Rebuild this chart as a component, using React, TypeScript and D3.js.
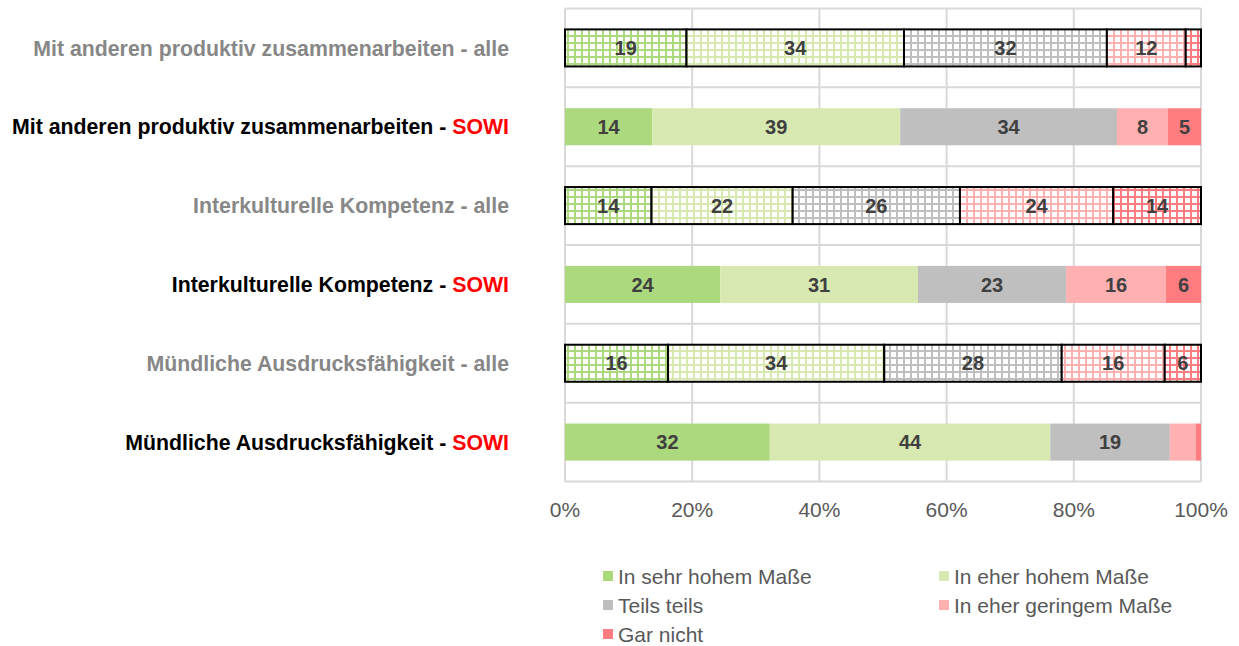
import React, { useRef, useEffect } from 'react';
import * as d3 from 'd3';

// categories from top to bottom
const categories = [
  'Mit anderen produktiv zusammenarbeiten',
  'Mit anderen produktiv zusammenarbeiten',
  'Interkulturelle Kompetenz',
  'Interkulturelle Kompetenz',
  'Mündliche Ausdrucksfähigkeit',
  'Mündliche Ausdrucksfähigkeit',
];
const groups = ['alle', 'SOWI', 'alle', 'SOWI', 'alle', 'SOWI'];

const seriesNames = [
  'In sehr hohem Maße',
  'In eher hohem Maße',
  'Teils teils',
  'In eher geringem Maße',
  'Gar nicht',
];
const seriesColors = ['#acd97e', '#d7e9b0', '#bfbfbf', '#ffb0b0', '#ff7c80'];

// percent values per series, one per category row
const sehrHoch = [19.1, 13.7, 13.6, 24.4, 16.2, 32.2];
const eherHoch = [34.2, 39.0, 22.2, 31.1, 34.0, 44.1];
const teilsTeils = [31.9, 34.1, 26.3, 23.3, 27.9, 18.8];
const eherGering = [12.4, 8.0, 24.1, 15.7, 16.2, 4.1];
const garNicht = [2.4, 5.2, 13.8, 5.5, 5.7, 0.8];

const xTicks = [0, 20, 40, 60, 80, 100];

const W = 1239;
const H = 646;
const font = '"Liberation Sans", Arial, sans-serif';

export default function App() {
  const svgRef = useRef<SVGSVGElement>(null);

  useEffect(() => {
    const svg = d3.select(svgRef.current);
    svg.selectAll('*').remove();

    const values = [sehrHoch, eherHoch, teilsTeils, eherGering, garNicht];
    const rows = categories.map((c, i) => {
      const row: any = { idx: i, cat: c, group: groups[i] };
      seriesNames.forEach((s, k) => (row[s] = values[k][i]));
      return row;
    });

    const x = d3.scaleLinear().domain([0, 100]).range([565, 1201]);
    const y = d3
      .scaleBand<number>()
      .domain(rows.map(r => r.idx))
      .range([8.5, 481.5])
      .paddingInner(0.53)
      .paddingOuter(0.265);
    const step = y.step();

    // hatch patterns (grid of coloured lines on white)
    const defs = svg.append('defs');
    seriesColors.forEach((col, k) => {
      const p = defs
        .append('pattern')
        .attr('id', `hatch${k}`)
        .attr('patternUnits', 'userSpaceOnUse')
        .attr('width', 7)
        .attr('height', 7);
      p.append('rect').attr('width', 7).attr('height', 7).attr('fill', '#fff');
      p.append('rect').attr('x', 0).attr('y', 0).attr('width', 2).attr('height', 7).attr('fill', col);
      p.append('rect').attr('x', 0).attr('y', 0).attr('width', 7).attr('height', 2).attr('fill', col);
    });

    // gridlines
    const grid = svg.append('g');
    grid
      .selectAll('line.v')
      .data(xTicks)
      .join('line')
      .attr('x1', d => x(d))
      .attr('x2', d => x(d))
      .attr('y1', 8.5)
      .attr('y2', 481.5)
      .attr('stroke', '#d9d9d9')
      .attr('stroke-width', 2);
    grid
      .selectAll('line.h')
      .data(d3.range(categories.length + 1))
      .join('line')
      .attr('x1', 565)
      .attr('x2', 1201)
      .attr('y1', d => 8.5 + d * step)
      .attr('y2', d => 8.5 + d * step)
      .attr('stroke', '#d9d9d9')
      .attr('stroke-width', 2);

    // bars
    const stack = d3.stack<any>().keys(seriesNames)(rows);
    const layers = svg
      .append('g')
      .selectAll('g')
      .data(stack)
      .join('g');

    layers
      .selectAll('rect')
      .data((d, k) => d.map(p => ({ p, k })))
      .join('rect')
      .attr('x', d => x(d.p[0]))
      .attr('y', d => y(d.p.data.idx)!)
      .attr('width', d => x(d.p[1]) - x(d.p[0]))
      .attr('height', y.bandwidth())
      .attr('fill', d => (d.p.data.group === 'alle' ? `url(#hatch${d.k})` : seriesColors[d.k]))
      .attr('stroke', d => (d.p.data.group === 'alle' ? '#000' : 'none'))
      .attr('stroke-width', 2);

    layers
      .selectAll('text')
      .data(d => d.filter(p => p[1] - p[0] >= 5))
      .join('text')
      .attr('x', p => x((p[0] + p[1]) / 2))
      .attr('y', p => y(p.data.idx)! + y.bandwidth() / 2)
      .attr('dy', '0.36em')
      .attr('text-anchor', 'middle')
      .attr('font-family', font)
      .attr('font-weight', 'bold')
      .attr('font-size', 20)
      .attr('fill', '#404040')
      .text(p => Math.round(p[1] - p[0]));

    // category labels
    const labels = svg
      .append('g')
      .selectAll('text')
      .data(rows)
      .join('text')
      .attr('x', 509)
      .attr('y', r => y(r.idx)! + y.bandwidth() / 2)
      .attr('dy', '0.36em')
      .attr('text-anchor', 'end')
      .attr('font-family', font)
      .attr('font-weight', 'bold')
      .attr('font-size', 21.3)
      .attr('fill', r => (r.group === 'alle' ? '#878787' : '#000'));
    labels.append('tspan').text(r => `${r.cat} - `);
    labels
      .append('tspan')
      .attr('fill', r => (r.group === 'alle' ? '#878787' : '#ff0000'))
      .text(r => r.group);

    // x axis labels
    svg
      .append('g')
      .selectAll('text')
      .data(xTicks)
      .join('text')
      .attr('x', d => x(d))
      .attr('y', 509)
      .attr('dy', '0.36em')
      .attr('text-anchor', 'middle')
      .attr('font-family', font)
      .attr('font-size', 21)
      .attr('fill', '#595959')
      .text(d => `${d}%`);

    // legend
    const legend = svg
      .append('g')
      .selectAll('g')
      .data(seriesNames)
      .join('g')
      .attr('transform', (_, i) => `translate(${i % 2 === 0 ? 603 : 939},${576 + Math.floor(i / 2) * 29})`);
    legend
      .append('rect')
      .attr('x', 0)
      .attr('y', -5)
      .attr('width', 10)
      .attr('height', 10)
      .attr('fill', (_, i) => seriesColors[i]);
    legend
      .append('text')
      .attr('x', 15)
      .attr('y', 0)
      .attr('dy', '0.36em')
      .attr('font-family', font)
      .attr('font-size', 21)
      .attr('fill', '#595959')
      .text(d => d);
  }, []);

  return (
    <svg
      ref={svgRef}
      width={W}
      height={H}
      style={{ position: 'absolute', left: 0, top: 0, background: '#fff' }}
    />
  );
}
